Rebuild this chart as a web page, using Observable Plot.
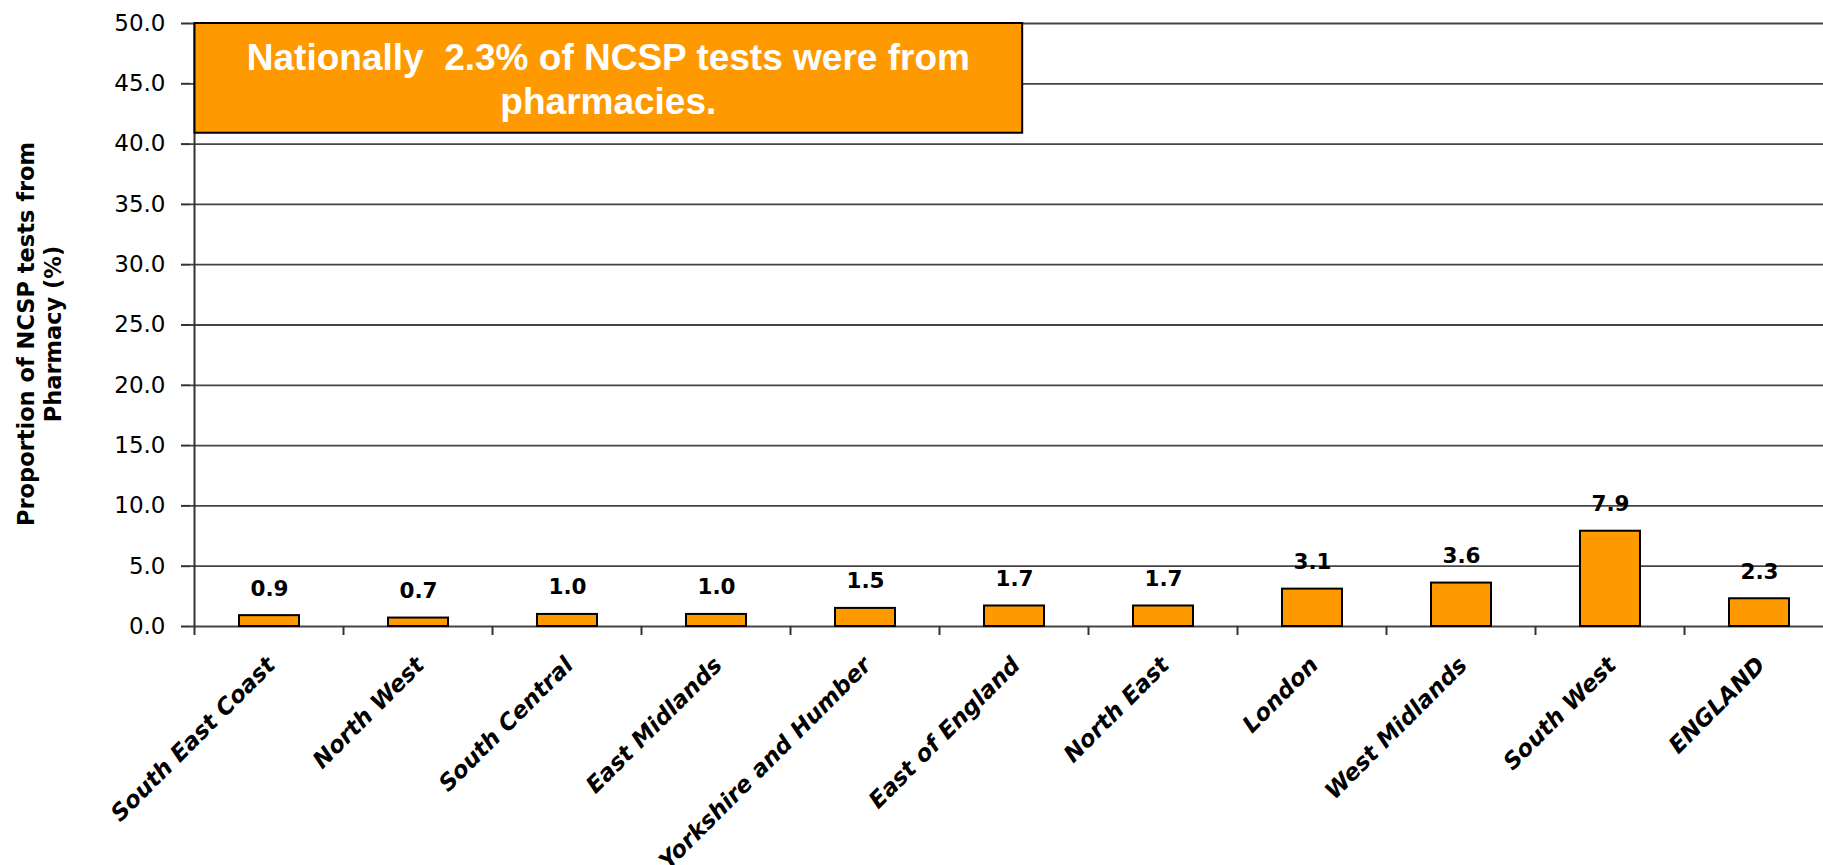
<!DOCTYPE html>
<html><head><meta charset="utf-8">
<script src="https://cdn.jsdelivr.net/npm/d3@7"></script>
<script src="https://cdn.jsdelivr.net/npm/@observablehq/plot@0.6"></script>
<style>
html,body{margin:0;padding:0;background:#fff;overflow:hidden;}
#chart{position:relative;width:1823px;height:865px;}
#chart svg{display:block;}
</style></head><body><div id="chart"></div>
<script>
const regions = ["South East Coast","North West","South Central","East Midlands","Yorkshire and Humber","East of England","North East","London","West Midlands","South West","ENGLAND"];
const values = [0.9,0.7,1.0,1.0,1.5,1.7,1.7,3.1,3.6,7.9,2.3];
const yTicks = [0,5,10,15,20,25,30,35,40,45,50];
const yTitle = ["Proportion of NCSP tests from","Pharmacy (%)"];
const noteLines = ["Nationally  2.3% of NCSP tests were from","pharmacies."];
const noteValueRange = [40.9, 50];
const noteBandSpan = 5.555;

const data = regions.map((r,i)=>({region:r, value:values[i]}));
const fmt = d3.format(".1f");

const plot = Plot.plot({
  width: 1823, height: 865,
  marginLeft: 190, marginRight: -15, marginTop: 23, marginBottom: 239,
  style: {fontFamily: "'DejaVu Sans', sans-serif", fontSize: "23px", color: "#000", background: "#fff", overflow: "visible"},
  x: {domain: regions, paddingInner: 0.6, paddingOuter: 0.3, axis: null},
  y: {domain: [0, 50]},
  marks: [
    Plot.gridY(yTicks, {stroke: "#444", strokeOpacity: 1, strokeWidth: 1.8}),
    Plot.axisY(yTicks, {tickSize: 9, tickPadding: 16, tickFormat: fmt, stroke: "#333", strokeWidth: 2, fontSize: 23, label: null}),
    Plot.barY(data, {x: "region", y: "value", fill: "#FF9900", stroke: "#000", strokeWidth: 2}),
    Plot.text(data, {x: "region", y: "value", text: d => fmt(d.value), dy: -27, fontWeight: "bold", fontSize: 21.5, fill: "#000"}),
    Plot.text(regions, {x: d => d, y: 0, text: d => d, rotate: -45, textAnchor: "end", lineAnchor: "bottom", dx: 7, dy: 40, fontWeight: "bold", fontStyle: "italic", fontSize: 23, fill: "#000"})
  ]
});
document.getElementById("chart").appendChild(plot);

const svg = d3.select(plot);
const xs = plot.scale("x"), ys = plot.scale("y");
const step = xs.apply(regions[1]) - xs.apply(regions[0]);
const bw = xs.bandwidth != null ? xs.bandwidth : step * 0.4;
const x0 = xs.apply(regions[0]) + bw / 2 - step / 2;
const yZero = ys.apply(0), yTop = ys.apply(50);

// y axis line
svg.append("line").attr("x1", x0).attr("x2", x0).attr("y1", yTop).attr("y2", yZero + 9)
  .attr("stroke", "#333").attr("stroke-width", 2);
// x boundary ticks
for (let k = 1; k <= regions.length; k++) {
  const xb = x0 + k * step;
  svg.append("line").attr("x1", xb).attr("x2", xb).attr("y1", yZero).attr("y2", yZero + 9)
    .attr("stroke", "#333").attr("stroke-width", 2);
}
// y title
yTitle.forEach((t, i) => {
  svg.append("text").attr("transform", `translate(${34 + i * 27},334) rotate(-90)`)
    .attr("text-anchor", "middle").attr("font-family", "'DejaVu Sans', sans-serif")
    .attr("font-weight", "bold").attr("font-size", 22.5).attr("fill", "#000").text(t);
});
// note box
const bx1 = x0 + noteBandSpan * step;
const by0 = ys.apply(noteValueRange[1]), by1 = ys.apply(noteValueRange[0]);
svg.append("rect").attr("x", x0).attr("y", by0).attr("width", bx1 - x0).attr("height", by1 - by0)
  .attr("fill", "#FF9900").attr("stroke", "#000").attr("stroke-width", 2);
noteLines.forEach((t, i) => {
  svg.append("text").attr("x", (x0 + bx1) / 2).attr("y", by0 + 47 + i * 43.5)
    .attr("text-anchor", "middle").attr("font-family", "'Liberation Sans', Arial, sans-serif")
    .attr("font-weight", "bold").attr("font-size", 37).attr("fill", "#fff")
    .style("white-space", "pre").attr("xml:space", "preserve").text(t);
});
</script></body></html>
